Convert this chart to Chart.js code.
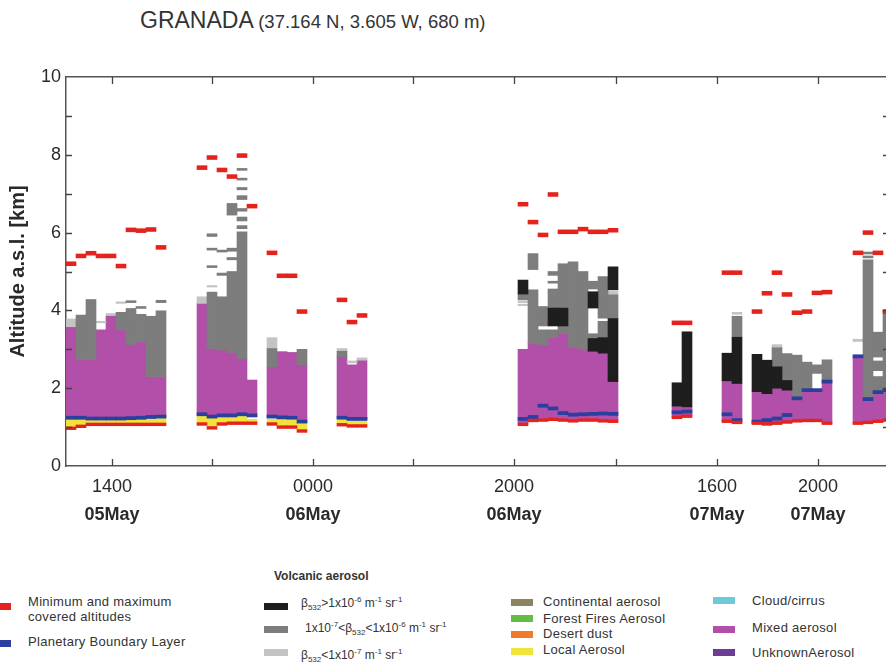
<!DOCTYPE html>
<html>
<head>
<meta charset="utf-8">
<script src="https://cdn.jsdelivr.net/npm/chart.js@4.4.1/dist/chart.umd.min.js"></script>
<style>
  html, body { margin: 0; padding: 0; overflow: hidden; background: #fff; width: 886px; height: 662px; }
  body { position: relative; font-family: 'Liberation Sans', Arial, sans-serif; color: #2a2a2a; }
  #wrap { position: absolute; left: 0; top: 0; width: 892px; height: 540px; }
  #title { position: absolute; left: 140px; top: 7px; white-space: nowrap; color: #333; }
  #title .big { font-size: 23px; }
  #title .small { font-size: 18.5px; }
  .sw { position: absolute; height: 7px; }
  .lt { position: absolute; font-size: 13px; line-height: 16px; white-space: nowrap; letter-spacing: 0.3px; color: #333; }
  .lt sub, .lt sup { font-size: 8px; line-height: 0; }
  .vt { font-size: 12px; letter-spacing: 0; }
  .hd { position: absolute; font-size: 12px; font-weight: bold; white-space: nowrap; color: #333; }
</style>
</head>
<body>
<div id="title"><span class="big">GRANADA</span> <span class="small">(37.164 N, 3.605 W, 680 m)</span></div>
<div id="wrap"><canvas id="lidarChart" width="892" height="540"></canvas></div>

<!-- legend -->
<div class="sw" style="left:0;top:603px;width:11px;background:#e3231c"></div>
<div class="lt" style="left:28px;top:594px;line-height:15px">Minimum and maximum<br>covered altitudes</div>
<div class="sw" style="left:0;top:640px;width:11px;background:#2a3f9e"></div>
<div class="lt" style="left:28px;top:634px">Planetary Boundary Layer</div>

<div class="hd" style="left:274px;top:569px">Volcanic aerosol</div>
<div class="sw" style="left:264px;top:603px;width:24px;background:#1e1e1e"></div>
<div class="lt vt" style="left:301px;top:595px">β<sub>532</sub>&gt;1x10<sup>-6</sup> m<sup>-1</sup> sr<sup>-1</sup></div>
<div class="sw" style="left:264px;top:626px;width:24px;background:#7d7d7d"></div>
<div class="lt vt" style="left:305px;top:620px">1x10<sup>-7</sup>&lt;β<sub>532</sub>&lt;1x10<sup>-6</sup> m<sup>-1</sup> sr<sup>-1</sup></div>
<div class="sw" style="left:264px;top:649px;width:24px;background:#c4c4c4"></div>
<div class="lt vt" style="left:301px;top:647px">β<sub>532</sub>&lt;1x10<sup>-7</sup> m<sup>-1</sup> sr<sup>-1</sup></div>

<div class="sw" style="left:511px;top:599px;width:22px;background:#8b8460"></div>
<div class="lt" style="left:543px;top:594px">Continental aerosol</div>
<div class="sw" style="left:511px;top:615px;width:22px;background:#62bd45"></div>
<div class="lt" style="left:543px;top:611px">Forest Fires Aerosol</div>
<div class="sw" style="left:511px;top:631px;width:22px;background:#f07a2a"></div>
<div class="lt" style="left:543px;top:626px">Desert dust</div>
<div class="sw" style="left:511px;top:648px;width:22px;background:#f0e43a"></div>
<div class="lt" style="left:543px;top:642px">Local Aerosol</div>

<div class="sw" style="left:713px;top:597px;width:22px;background:#6ccbd6"></div>
<div class="lt" style="left:752px;top:593px">Cloud/cirrus</div>
<div class="sw" style="left:713px;top:626px;width:22px;background:#b24fa8"></div>
<div class="lt" style="left:752px;top:620px">Mixed aerosol</div>
<div class="sw" style="left:713px;top:649px;width:22px;background:#6b3d97"></div>
<div class="lt" style="left:752px;top:645px">UnknownAerosol</div>

<script>
// profile positions on the compressed time axis (1 unit = one lidar profile)
const profileX = [
    0.5, 1.5, 2.5, 3.5, 4.5, 5.5, 6.5, 7.5, 8.5, 9.5,
    13.6, 14.6, 15.6, 16.6, 17.6, 18.6,
    20.6, 21.6, 22.6, 23.6,
    27.6, 28.6, 29.6,
    45.7, 46.7, 47.7, 48.7, 49.7, 50.7, 51.7, 52.7, 53.7, 54.7,
    61.1, 62.1,
    66.1, 67.1, 69.1, 70.1, 71.1, 72.1, 73.1, 74.1, 75.1, 76.1,
    79.2, 80.2, 81.2, 82.2
];

// maximum covered altitude (km)
const maxAlt = [
    5.20, 5.40, 5.47, 5.40, 5.40, 5.14, 6.07, 6.05, 6.08, 5.62,
    7.67, 7.93, 7.61, 7.44, 7.98, 6.68,
    5.48, 4.89, 4.89, 3.97,
    4.27, 3.70, 3.87,
    6.73, 6.27, 5.94, 6.98, 6.02, 6.02, 6.09, 6.02, 6.02, 6.06,
    3.68, 3.68,
    4.97, 4.97, 3.97, 4.44, 4.97, 4.41, 3.94, 3.97, 4.45, 4.47,
    5.48, 6.00, 5.48, 3.97
];

// minimum covered altitude (km)
const minAlt = [
    0.97, 1.02, 1.07, 1.07, 1.07, 1.07, 1.07, 1.07, 1.07, 1.07,
    1.08, 0.98, 1.08, 1.10, 1.10, 1.10,
    1.08, 1.00, 1.00, 0.90,
    1.06, 1.03, 1.03,
    1.07, 1.17, 1.18, 1.20, 1.18, 1.16, 1.18, 1.18, 1.16, 1.15,
    1.25, 1.28,
    1.15, 1.12, 1.10, 1.08, 1.10, 1.13, 1.16, 1.17, 1.17, 1.10,
    1.10, 1.12, 1.15, 1.18
];

// planetary boundary layer height (km)
const pblAlt = [
    1.24, 1.24, 1.22, 1.22, 1.22, 1.22, 1.23, 1.24, 1.26, 1.27,
    1.33, 1.27, 1.30, 1.30, 1.33, 1.30,
    1.27, 1.25, 1.24, 1.14,
    1.24, 1.21, 1.21,
    1.21, 1.26, 1.55, 1.48, 1.36, 1.32, 1.33, 1.34, 1.35, 1.34,
    1.38, 1.40,
    1.33, 1.18, 1.14, 1.18, 1.22, 1.31, 1.74, 1.95, 1.95, 2.17,
    2.82, 1.72, 1.90, 1.95
];

// mixed aerosol layer base / top (km)
const mixedBase = [
    1.22, 1.22, 1.20, 1.20, 1.20, 1.20, 1.21, 1.22, 1.24, 1.25,
    1.31, 1.25, 1.28, 1.28, 1.31, 1.28,
    1.25, 1.23, 1.22, 1.12,
    1.22, 1.19, 1.19,
    1.10, 1.18, 1.20, 1.22, 1.20, 1.18, 1.20, 1.20, 1.18, 1.17,
    1.25, 1.28,
    1.15, 1.12, 1.10, 1.08, 1.10, 1.13, 1.16, 1.17, 1.17, 1.10,
    1.10, 1.12, 1.15, 1.18
];
const mixedTop = [
    3.58, 2.74, 2.73, 3.50, 3.86, 3.50, 3.11, 3.20, 2.30, 2.30,
    4.18, 3.02, 2.98, 2.92, 2.76, 2.21,
    2.55, 2.94, 2.92, 2.60,
    2.81, 2.60, 2.72,
    3.00, 3.15, 3.12, 3.30, 3.40, 3.05, 3.00, 2.95, 2.90, 2.17,
    1.54, 1.52,
    2.19, 2.12, 1.91, 1.86, 2.00, 1.95, 1.74, 1.93, 1.93, 2.17,
    2.81, 1.70, 1.85, 1.90
];

// local aerosol layers: [profile, bottom, top]
const localLayers = [
    [0, 0.97, 1.20], [1, 1.02, 1.20], [2, 1.10, 1.19], [3, 1.10, 1.18], [4, 1.10, 1.18],
    [5, 1.10, 1.18], [6, 1.10, 1.19], [7, 1.10, 1.20], [8, 1.10, 1.21], [9, 1.10, 1.22],
    [10, 1.08, 1.30], [11, 1.02, 1.24], [12, 1.10, 1.27], [13, 1.10, 1.27], [14, 1.10, 1.30], [15, 1.12, 1.20],
    [16, 1.10, 1.20], [17, 1.02, 1.20], [18, 1.02, 1.18], [19, 0.92, 1.08],
    [20, 1.08, 1.18], [21, 1.05, 1.15], [22, 1.05, 1.15]
];

// volcanic aerosol, beta532 > 1e-6
const volcHigh = [
    [23, 4.42, 4.78], [26, 3.60, 4.06], [27, 3.60, 4.06], [30, 4.06, 4.48], [30, 2.95, 3.28],
    [31, 2.90, 3.30], [32, 4.53, 5.12], [32, 2.17, 3.79],
    [33, 1.54, 2.14], [34, 1.52, 3.45],
    [35, 2.19, 2.90], [36, 2.12, 3.31], [37, 1.91, 2.87], [38, 1.86, 2.72], [39, 2.00, 2.55], [40, 1.95, 2.20]
];

// volcanic aerosol, 1e-7 < beta532 < 1e-6
const volcMid = [
    [1, 2.74, 3.88], [2, 2.73, 4.28], [5, 3.50, 3.95], [6, 3.11, 4.05], [6, 4.20, 4.25],
    [7, 3.20, 3.90], [7, 4.05, 4.10], [8, 2.30, 3.85], [9, 2.30, 3.99], [9, 4.20, 4.26],
    [11, 3.02, 4.47], [11, 5.10, 5.15], [11, 5.55, 5.60], [11, 5.90, 5.97],
    [12, 2.98, 4.35], [12, 4.90, 4.96], [12, 5.50, 5.55],
    [13, 2.92, 5.00], [13, 5.30, 5.36], [13, 5.52, 5.60], [13, 6.45, 6.75],
    [14, 2.76, 6.02], [14, 6.10, 6.18], [14, 6.30, 6.40], [14, 6.55, 6.62], [14, 6.85, 6.95],
    [14, 7.10, 7.16], [14, 7.35, 7.40], [14, 7.60, 7.65],
    [16, 2.55, 3.02], [19, 2.60, 3.00], [20, 2.81, 2.95],
    [23, 4.27, 4.42], [24, 3.15, 4.53], [24, 5.05, 5.46], [25, 3.12, 3.50], [25, 3.60, 4.10],
    [26, 3.30, 3.50], [26, 4.06, 4.55], [26, 4.70, 4.75], [26, 4.90, 5.00],
    [27, 4.06, 5.20], [27, 3.40, 3.60], [28, 3.05, 5.25], [29, 3.00, 5.00],
    [30, 4.55, 4.75], [30, 3.30, 3.40], [31, 3.30, 3.72], [31, 3.80, 4.87], [32, 3.79, 4.40],
    [36, 3.31, 3.85], [39, 2.55, 3.04], [40, 2.20, 2.89], [41, 1.74, 2.85], [42, 1.93, 2.67],
    [43, 2.38, 2.60], [44, 2.17, 2.73],
    [46, 1.70, 5.30], [46, 5.35, 5.40], [46, 5.45, 5.50], [47, 1.85, 2.30], [47, 2.45, 2.70],
    [47, 2.80, 3.44], [48, 1.90, 4.00]
];

// volcanic aerosol, beta532 < 1e-7
const volcLow = [
    [0, 3.58, 3.78], [3, 3.68, 3.72], [4, 3.88, 3.92], [5, 4.18, 4.22],
    [10, 4.18, 4.35], [11, 4.60, 4.64], [16, 3.02, 3.30],
    [20, 2.95, 3.02], [21, 2.65, 2.70], [22, 2.72, 2.78],
    [23, 4.12, 4.16], [23, 4.20, 4.24], [32, 4.40, 4.50],
    [36, 3.90, 3.95], [39, 3.04, 3.12], [45, 3.20, 3.26]
];

// x axis tick positions and labels
const tickPos = [4.6, 14.6, 24.7, 34.7, 44.8, 55.0, 65.1, 75.2];
const timeLabels = ['1400', '', '0000', '', '2000', '', '1600', '2000'];
const dateLabels = ['05May', '', '06May', '', '06May', '', '07May', '07May'];
const altLabels = ['0', '', '2', '', '4', '', '6', '', '8', '', '10'];

const AXIS = '#555';

// build floating bar data
const marker = (arr, half) => arr.map((v, i) => ({ x: profileX[i], y: [v - half, v + half] }));
const layers = (arr) => arr.map(s => ({ x: profileX[s[0]], y: [s[1], s[2]] }));

// short tick marks drawn inside the frame
const innerTicks = {
    id: 'innerTicks',
    afterDraw(chart) {
        const { ctx, chartArea: a, scales } = chart;
        ctx.save();
        ctx.strokeStyle = '#444';
        ctx.lineWidth = 1.3;
        ctx.beginPath();
        scales.x.ticks.forEach(t => {
            const px = Math.round(scales.x.getPixelForValue(t.value)) + 0.5;
            ctx.moveTo(px, a.bottom); ctx.lineTo(px, a.bottom - 7);
            ctx.moveTo(px, a.top); ctx.lineTo(px, a.top + 7);
        });
        scales.y.ticks.forEach(t => {
            if (t.value <= 0 || t.value >= 10) return;
            const py = Math.round(scales.y.getPixelForValue(t.value)) + 0.5;
            ctx.moveTo(a.left, py); ctx.lineTo(a.left + 6, py);
            ctx.moveTo(a.right, py); ctx.lineTo(a.right - 6, py);
        });
        ctx.stroke();
        ctx.restore();
    }
};

Chart.defaults.font.family = "'Liberation Sans', Arial, sans-serif";
Chart.defaults.color = '#2a2a2a';

const ctx = document.getElementById('lidarChart');
new Chart(ctx, {
    type: 'bar',
    data: {
        datasets: [
            { label: 'Maximum covered altitude', data: marker(maxAlt, 0.05), backgroundColor: '#e3231c', order: 1 },
            { label: 'Minimum covered altitude', data: marker(minAlt, 0.035), backgroundColor: '#e3231c', order: 1 },
            { label: 'Planetary Boundary Layer', data: marker(pblAlt, 0.04), backgroundColor: '#2a3f9e', order: 2 },
            { label: 'beta532 > 1e-6', data: layers(volcHigh), backgroundColor: '#1e1e1e', order: 3 },
            { label: '1e-7 < beta532 < 1e-6', data: layers(volcMid), backgroundColor: '#7d7d7d', order: 4 },
            { label: 'beta532 < 1e-7', data: layers(volcLow), backgroundColor: '#c4c4c4', order: 4 },
            { label: 'Local Aerosol', data: layers(localLayers), backgroundColor: '#f0e43a', order: 5 },
            { label: 'Mixed aerosol', data: mixedTop.map((v, i) => ({ x: profileX[i], y: [mixedBase[i], v] })), backgroundColor: '#b24fa8', order: 6 }
        ]
    },
    options: {
        responsive: false,
        animation: false,
        events: [],
        datasets: {
            bar: { grouped: false, barPercentage: 1, categoryPercentage: 1, borderWidth: 0, xAxisID: 'x', yAxisID: 'y' }
        },
        layout: { padding: { left: 0, right: 3, top: 77, bottom: 16 } },
        plugins: { legend: { display: false }, tooltip: { enabled: false } },
        scales: {
            x: {
                type: 'linear', position: 'bottom', min: 0, max: 82.3, weight: 0, offset: false,
                afterBuildTicks: (s) => { s.ticks = tickPos.map(v => ({ value: v })); },
                afterFit: (s) => { s.height = 28; },
                ticks: { autoSkip: false, maxRotation: 0, padding: 10, font: { size: 18 }, callback: (v, i) => timeLabels[i] },
                grid: { offset: false, drawOnChartArea: false, drawTicks: false },
                border: { color: AXIS, width: 1.5 }
            },
            xd: {
                type: 'linear', position: 'bottom', min: 0, max: 82.3, weight: 1, offset: false,
                afterBuildTicks: (s) => { s.ticks = tickPos.map(v => ({ value: v })); },
                afterFit: (s) => { s.height = 30; },
                ticks: { autoSkip: false, maxRotation: 0, padding: 2, font: { size: 18, weight: 'bold' }, callback: (v, i) => dateLabels[i] },
                grid: { display: false },
                border: { display: false }
            },
            xt: {
                type: 'linear', position: 'top', min: 0, max: 82.3, offset: false,
                afterFit: (s) => { s.height = 0; },
                ticks: { display: false },
                grid: { drawOnChartArea: false, drawTicks: false },
                border: { color: AXIS, width: 1.5 }
            },
            y: {
                type: 'linear', position: 'left', min: 0, max: 10,
                afterFit: (s) => { s.width = 66; },
                ticks: { stepSize: 1, padding: 5, font: { size: 18 }, callback: (v, i) => altLabels[i] },
                grid: { drawOnChartArea: false, drawTicks: false },
                border: { color: AXIS, width: 1.5 },
                title: { display: true, text: 'Altitude a.s.l. [km]', font: { size: 20, weight: 'bold' }, padding: { top: 6, bottom: 0 } }
            },
            y2: {
                type: 'linear', position: 'right', min: 0, max: 10,
                afterFit: (s) => { s.width = 0; },
                ticks: { display: false },
                grid: { drawOnChartArea: false, drawTicks: false },
                border: { color: AXIS, width: 1.5 }
            }
        }
    },
    plugins: [innerTicks]
});
</script>
</body>
</html>
